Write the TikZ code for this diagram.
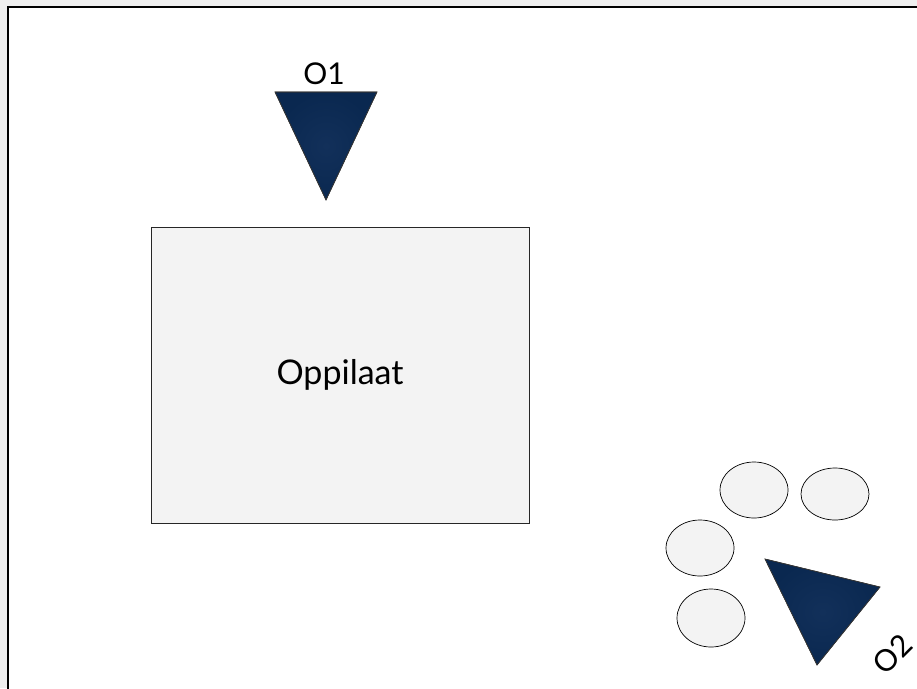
\documentclass[tikz,border=0pt]{standalone}
\usepackage{fontspec}
\setmainfont{Lato}
\usetikzlibrary{shapes.geometric}
\definecolor{navy}{HTML}{0A2850}
\definecolor{navylight}{HTML}{12305A}
\definecolor{boxfill}{HTML}{F3F3F3}
\definecolor{outer}{HTML}{EFEFEF}
\tikzset{
  tri/.style={draw=black!80, line width=0.6pt, inner color=navylight, outer color=navy},
  oval/.style={draw=black, line width=0.7pt, fill=boxfill},
  lbl/.style={font=\fontsize{30}{30}\selectfont, inner sep=0pt},
}
\begin{document}
\begin{tikzpicture}[x=1pt,y=-1pt]
\fill[outer] (0,0) rectangle (917,688);
\useasboundingbox (0,0) rectangle (917,688);
\filldraw[fill=white, draw=black, line width=2.5pt] (8,7) rectangle (940,710);
% O1 triangle
\coordinate (a1) at (275,92);
\coordinate (a2) at (377,92);
\coordinate (a3) at (326,200);
\shade[tri] (a1) -- (a2) -- (a3) -- cycle;
\draw[black!80, line width=0.6pt] (a1) -- (a2) -- (a3) -- cycle;
\node[lbl] (o1) at (324,74) {O1};
% box
\node[draw=black!85, line width=0.8pt, fill=boxfill, minimum width=378pt, minimum height=296pt, font=\fontsize{34}{34}\selectfont] (box) at (340,375) {Oppilaat};
% ellipses
\node[oval, ellipse, minimum width=68pt, minimum height=56pt] (e1) at (754,490) {};
\node[oval, ellipse, minimum width=68pt, minimum height=52pt] (e2) at (835,494) {};
\node[oval, ellipse, minimum width=68pt, minimum height=56pt] (e3) at (700,548) {};
\node[oval, ellipse, minimum width=68pt, minimum height=58pt] (e4) at (711,618) {};
% O2 triangle
\coordinate (b1) at (765,559);
\coordinate (b2) at (880,587);
\coordinate (b3) at (817,665);
\shade[tri] (b1) -- (b2) -- (b3) -- cycle;
\draw[black!80, line width=0.6pt] (b1) -- (b2) -- (b3) -- cycle;
\node[lbl, rotate=45] (o2) at (893,654) {O2};
\end{tikzpicture}
\end{document}
